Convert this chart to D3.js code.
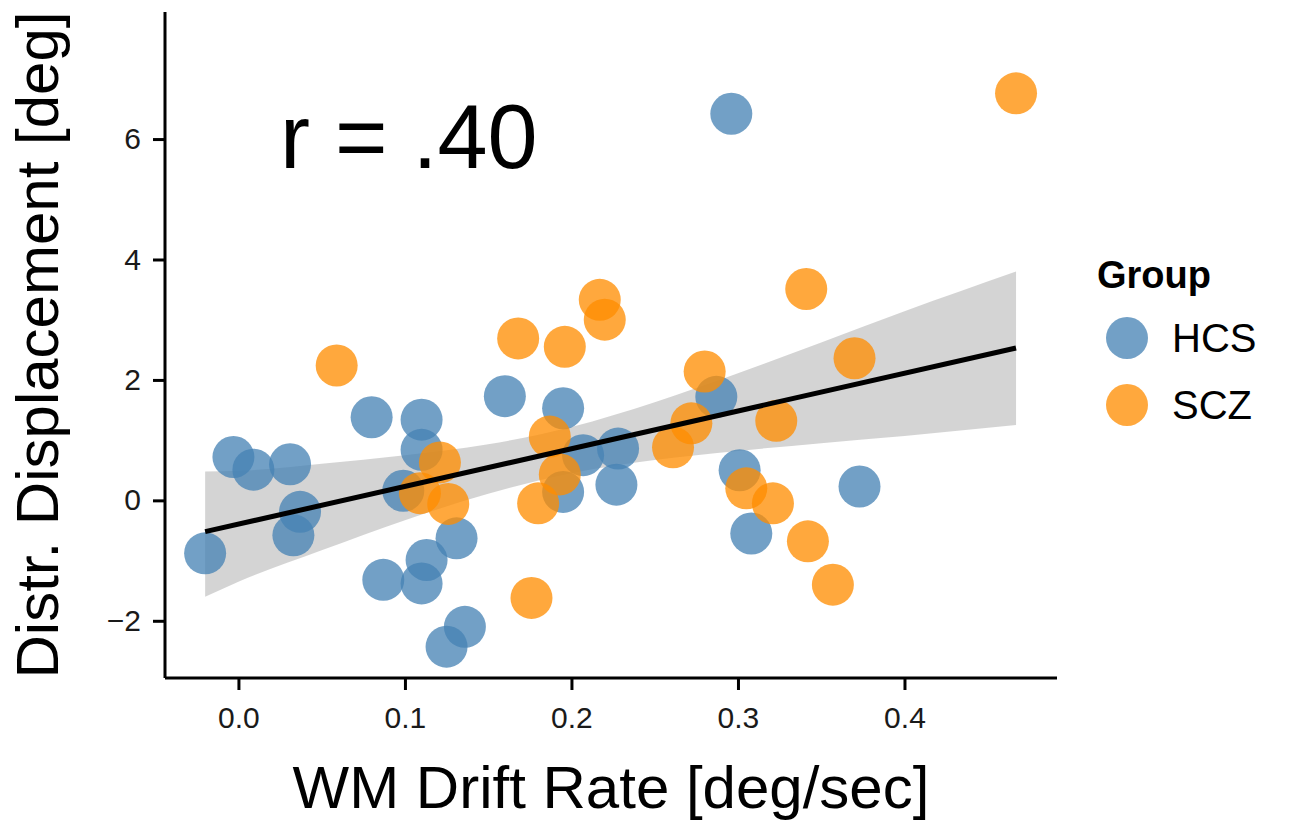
<!DOCTYPE html>
<html>
<head>
<meta charset="utf-8">
<script src="https://cdn.jsdelivr.net/npm/d3@7"></script>
<style>
  body { margin: 0; background: #fff; }
  text { font-family: "Liberation Sans", Arial, sans-serif; }
</style>
</head>
<body>
<div id="chart"></div>
<script>
// data
var groups = ["HCS", "SCZ"];
var groupColours = ["steelblue", "darkorange"];

var hcsDrift = [-0.020, -0.003, 0.009, 0.031, 0.037, 0.033, 0.080, 0.087, 0.099, 0.110, 0.110, 0.113, 0.110, 0.131,
  0.136, 0.125, 0.160, 0.195, 0.207, 0.195, 0.228, 0.227, 0.287, 0.296, 0.301, 0.308, 0.373];
var hcsDisp = [-0.88, 0.72, 0.51, 0.60, -0.19, -0.58, 1.38, -1.32, 0.16, 1.34, 0.84, -0.99, -1.38, -0.63,
  -2.10, -2.43, 1.73, 1.53, 0.75, 0.14, 0.86, 0.26, 1.72, 6.42, 0.50, -0.55, 0.23];

var sczDrift = [0.059, 0.121, 0.109, 0.126, 0.168, 0.196, 0.217, 0.220, 0.187, 0.193, 0.180, 0.176, 0.261, 0.272,
  0.280, 0.323, 0.305, 0.321, 0.342, 0.357, 0.341, 0.370, 0.467];
var sczDisp = [2.24, 0.63, 0.12, -0.06, 2.69, 2.55, 3.33, 3.00, 1.06, 0.43, -0.05, -1.62, 0.88, 1.28,
  2.14, 1.32, 0.20, -0.05, -0.68, -1.40, 3.51, 2.36, 6.76];

// fitted line and its confidence band
var fitX = [-0.020, 0.467];
var fitY = [-0.52, 2.53];
var bandX = [-0.020, 0.000, 0.050, 0.100, 0.150, 0.200, 0.250, 0.300, 0.350, 0.400, 0.467];
var bandLow = [-1.60, -1.35, -0.83, -0.33, 0.11, 0.45, 0.67, 0.82, 0.95, 1.07, 1.25];
var bandHigh = [0.48, 0.49, 0.61, 0.75, 0.93, 1.22, 1.63, 2.11, 2.62, 3.14, 3.80];

var xTicks = [0.0, 0.1, 0.2, 0.3, 0.4];
var yTicks = [-2, 0, 2, 4, 6];
var rLabel = "r = .40";

var svgWidth = 1290, svgHeight = 826;
var plotLeft = 165, plotRight = 1057, plotTop = 12, plotBottom = 678;

var svg = d3.select("#chart").append("svg")
  .attr("width", svgWidth).attr("height", svgHeight);

var x = d3.scaleLinear().domain([-0.0441, 0.4916]).range([plotLeft, plotRight]);
var y = d3.scaleLinear().domain([-2.95, 8.11]).range([plotBottom, plotTop]);
var colour = d3.scaleOrdinal().domain(groups).range(groupColours);

// band
var band = bandX.map(function(v, i) { return {x: v, lo: bandLow[i], hi: bandHigh[i]}; });
svg.append("path")
  .datum(band)
  .attr("fill", "#999999")
  .attr("fill-opacity", 0.42)
  .attr("d", d3.area().curve(d3.curveMonotoneX).x(function(d) { return x(d.x); })
    .y0(function(d) { return y(d.lo); })
    .y1(function(d) { return y(d.hi); }));

// points
var points = [];
hcsDrift.forEach(function(v, i) { points.push({g: "HCS", x: v, y: hcsDisp[i]}); });
sczDrift.forEach(function(v, i) { points.push({g: "SCZ", x: v, y: sczDisp[i]}); });

svg.append("g").selectAll("circle")
  .data(points)
  .enter().append("circle")
  .attr("cx", function(d) { return x(d.x); })
  .attr("cy", function(d) { return y(d.y); })
  .attr("r", 21)
  .attr("fill", function(d) { return colour(d.g); })
  .attr("fill-opacity", 0.76);

// fit line
svg.append("path")
  .datum(fitX.map(function(v, i) { return [v, fitY[i]]; }))
  .attr("fill", "none")
  .attr("stroke", "black")
  .attr("stroke-width", 5)
  .attr("d", d3.line().x(function(d) { return x(d[0]); }).y(function(d) { return y(d[1]); }));

// axes
var xAxis = svg.append("g")
  .attr("transform", "translate(0," + plotBottom + ")")
  .call(d3.axisBottom(x).tickValues(xTicks).tickFormat(d3.format(".1f")).tickSize(12).tickPadding(17).tickSizeOuter(0));
var yAxis = svg.append("g")
  .attr("transform", "translate(" + plotLeft + ",0)")
  .call(d3.axisLeft(y).tickValues(yTicks).tickFormat(function(d) { return d < 0 ? "\u2212" + Math.abs(d) : d; })
    .tickSize(12).tickPadding(12).tickSizeOuter(0));

[xAxis, yAxis].forEach(function(a) {
  a.attr("font-size", 30).attr("font-family", "'Liberation Sans', Arial, sans-serif");
  a.select(".domain").attr("stroke", "black").attr("stroke-width", 3);
  a.selectAll(".tick line").attr("stroke", "black").attr("stroke-width", 3);
  a.selectAll(".tick text").attr("fill", "#1a1a1a");
});
xAxis.select(".domain").attr("d", "M" + plotLeft + ",0H" + plotRight);
yAxis.select(".domain").attr("d", "M0," + plotTop + "V" + plotBottom);

// titles
svg.append("text")
  .attr("x", (plotLeft + plotRight) / 2)
  .attr("y", 808)
  .attr("text-anchor", "middle")
  .style("font-size", "60px")
  .text("WM Drift Rate [deg/sec]");

svg.append("text")
  .attr("transform", "translate(58," + (plotTop + plotBottom) / 2 + ") rotate(-90)")
  .attr("text-anchor", "middle")
  .style("font-size", "60px")
  .text("Distr. Displacement [deg]");

svg.append("text")
  .attr("x", 280)
  .attr("y", 168)
  .style("font-size", "90px")
  .text(rLabel);

// legend
var legend = svg.append("g").attr("transform", "translate(1097,0)");
legend.append("text")
  .attr("x", 0).attr("y", 288)
  .style("font-size", "38px").style("font-weight", "bold")
  .text("Group");
groups.forEach(function(g, i) {
  legend.append("circle")
    .attr("cx", 30).attr("cy", 338 + i * 67)
    .attr("r", 21)
    .attr("fill", colour(g)).attr("fill-opacity", 0.76);
  legend.append("text")
    .attr("x", 75).attr("y", 338 + i * 67)
    .attr("dy", "0.36em")
    .style("font-size", "40px")
    .text(g);
});
</script>
</body>
</html>
